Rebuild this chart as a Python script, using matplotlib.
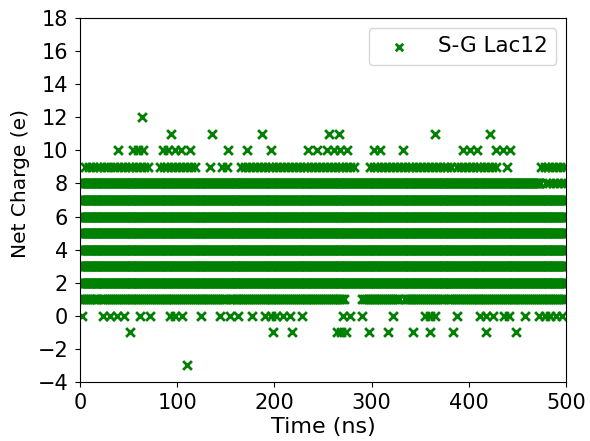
import numpy as np
import matplotlib
matplotlib.use("Agg")
import matplotlib.pyplot as plt

OUT = "out.png"
COLOR = "green"
LABEL = "S-G Lac12"

# charge levels occupied in every frame of the 500 ns run
full_levels = [2, 3, 4, 5, 6, 7]
full_span = [(0, 500)]

# partly occupied levels: (start, end) stretches in ns
spans_8 = [(0, 473)]
spans_8_tail = [(479, 500)]
spans_9 = [(5, 29), (34, 70), (82, 118), (166, 285), (298, 384), (388, 428), (474, 500)]
spans_1 = [(0, 19), (22, 151), (154, 238), (240, 273), (290, 329), (334, 374), (379, 499)]

# isolated frames (ns) per charge level
t_12 = [64]
t_11 = [94, 136, 187, 256, 266, 365, 422]
t_10 = [39, 55, 60, 65, 85, 91, 98, 104, 113, 152, 172, 196, 235, 244, 254, 261,
        268, 275, 302, 309, 332, 394, 401, 408, 428, 435, 442]
t_9 = [134, 146, 151, 439]
t_0 = [2, 24, 31, 38, 45, 62, 72, 93, 98, 105, 125, 144, 154, 163, 177, 190, 197,
       202, 209, 216, 228, 271, 278, 290, 322, 355, 360, 365, 388, 412, 418, 425,
       436, 441, 458, 472, 478, 484, 490, 496]
t_m1 = [51, 199, 218, 264, 269, 274, 297, 317, 343, 360, 384, 418, 449]
t_m3 = [110]


def frames(spans, step):
    return np.concatenate([np.arange(a, b + 1e-6, step) for a, b in spans])


def main():
    times, charges = [], []

    def add(t, q):
        t = np.asarray(t, dtype=float)
        times.append(t)
        charges.append(np.full(len(t), q))

    for q in full_levels:
        add(frames(full_span, 1.0), q)
    add(frames(spans_8, 1.0), 8)
    add(frames(spans_8_tail, 4.0), 8)
    add(frames(spans_9, 4.0), 9)
    add(frames(spans_1, 2.0), 1)
    for q, t in [(12, t_12), (11, t_11), (10, t_10), (9, t_9),
                 (0, t_0), (-1, t_m1), (-3, t_m3)]:
        add(t, q)

    x = np.concatenate(times)
    y = np.concatenate(charges)

    plt.rcParams["font.size"] = 15
    fig = plt.figure(figsize=(5.9, 4.41), dpi=100)
    ax = fig.add_axes([0.1356, 0.1338, 0.8237, 0.8254])
    ax.scatter(x, y, marker="x", color=COLOR, s=40, linewidths=2, label=LABEL)
    ax.set_xlim(0, 500)
    ax.set_ylim(-4, 18)
    ax.set_yticks(np.arange(-4, 19, 2))
    ax.set_xticks(np.arange(0, 501, 100))
    ax.tick_params(axis="y", pad=5)
    ax.tick_params(axis="x", pad=4.5)
    ax.set_xlabel("Time (ns)", fontsize=16, labelpad=3)
    ax.set_ylabel("Net Charge (e)", fontsize=14.5)
    ax.yaxis.set_label_coords(-0.102, 0.545)
    ax.legend(loc="upper right", borderaxespad=0.45, markerscale=0.85, fontsize=15.5)
    fig.savefig(OUT, dpi=100)
    plt.close(fig)


if __name__ == "__main__":
    main()
